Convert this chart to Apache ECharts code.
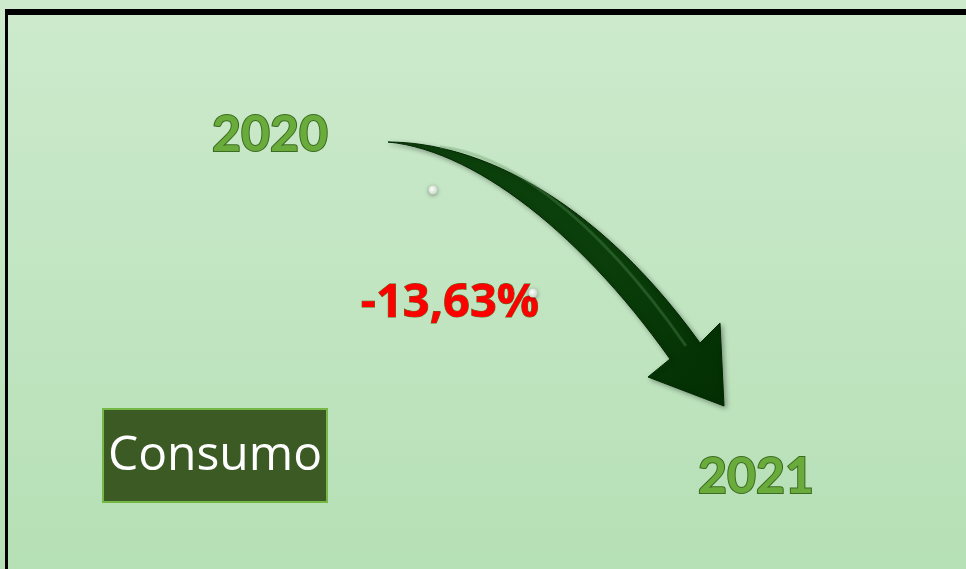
<!DOCTYPE html>
<html>
<head>
<meta charset="utf-8">
<script src="https://cdn.jsdelivr.net/npm/echarts@6/dist/echarts.min.js"></script>
<style>
  html, body { margin: 0; padding: 0; }
  #container { width: 966px; height: 569px; }
</style>
</head>
<body>
<div id="container"></div>
<script>
// datos: consumo 2020 -> 2021 (indice)
var years = ['2020', '2021'];
var values = [100, 86.37];
var category = 'Consumo';

// puntos de una curva bezier cubica (para dibujar la flecha)
function cubic(p0, p1, p2, p3, n) {
	var pts = [];
	for (var i = 0; i <= n; i++) {
		var t = i / n, u = 1 - t;
		pts.push([
			u*u*u*p0[0] + 3*u*u*t*p1[0] + 3*u*t*t*p2[0] + t*t*t*p3[0],
			u*u*u*p0[1] + 3*u*u*t*p1[1] + 3*u*t*t*p2[1] + t*t*t*p3[1]
		]);
	}
	return pts;
}

window.onload = function () {
	var chart = echarts.init(document.getElementById('container'));
	var change = ((values[1] - values[0]) / values[0] * 100).toFixed(2).replace('.', ',') + '%';

	var outer = cubic([388, 142], [470, 142], [590, 190], [700, 343], 30);
	var inner = cubic([670, 359], [582, 235], [475, 150], [388, 142], 30);
	var arrowPts = outer.concat([[720, 323], [724, 406], [648, 377]]).concat(inner);

	var yearStyle = {
		fill: '#6aac3c',
		stroke: '#3d6b22',
		lineWidth: 2,
		font: 'bold 50px Lato',
		textAlign: 'center',
		textVerticalAlign: 'middle',
		shadowColor: 'rgba(0,0,0,0.45)',
		shadowBlur: 4,
		shadowOffsetX: 3,
		shadowOffsetY: 3
	};

	chart.setOption({
		backgroundColor: new echarts.graphic.LinearGradient(0, 0, 0, 1, [
			{ offset: 0, color: '#cdeacd' },
			{ offset: 1, color: '#b6e0b6' }
		]),
		grid: { left: 433, width: 100, top: 190, height: 103 },
		xAxis: { type: 'category', data: years, boundaryGap: false, show: false },
		yAxis: { type: 'value', min: 86.37, max: 100, show: false },
		series: [{
			type: 'line',
			data: values,
			symbol: 'circle',
			symbolSize: 9,
			z: 20,
			lineStyle: { opacity: 0 },
			itemStyle: {
				color: new echarts.graphic.RadialGradient(0.4, 0.4, 0.6, [
					{ offset: 0, color: '#ffffff' },
					{ offset: 1, color: '#c8d8c8' }
				]),
				shadowColor: 'rgba(0,0,0,0.4)',
				shadowBlur: 4,
				shadowOffsetY: 1
			},
			silent: true,
			animation: false
		}],
		graphic: [
			// marco
			{ type: 'line', shape: { x1: 5, y1: 12, x2: 966, y2: 12 }, style: { stroke: '#000', lineWidth: 6 } },
			{ type: 'line', shape: { x1: 6.5, y1: 9, x2: 6.5, y2: 569 }, style: { stroke: '#000', lineWidth: 3 } },
			// flecha
			{
				type: 'polygon',
				z: 5,
				shape: { points: arrowPts },
				style: {
					fill: new echarts.graphic.LinearGradient(0, 0, 1, 1, [
						{ offset: 0, color: '#0c420c' },
						{ offset: 0.6, color: '#0a3d0a' },
						{ offset: 1, color: '#032e03' }
					]),
					stroke: '#022802',
					lineWidth: 1,
					shadowColor: 'rgba(0,0,0,0.35)',
					shadowBlur: 5,
					shadowOffsetX: 2,
					shadowOffsetY: 2
				}
			},
			{
				type: 'bezierCurve',
				z: 6,
				shape: { x1: 440, y1: 147, cpx1: 500, cpy1: 152, cpx2: 590, cpy2: 208, x2: 686, y2: 346 },
				style: { fill: null, stroke: 'rgba(100,160,100,0.3)', lineWidth: 3 }
			},
			// textos
			{ type: 'text', z: 10, x: 270, y: 135, style: Object.assign({}, yearStyle, { text: years[0] }) },
			{ type: 'text', z: 10, x: 756, y: 477, style: Object.assign({}, yearStyle, { text: years[1] }) },
			{
				type: 'text', z: 10, x: 450, y: 304,
				style: {
					text: change,
					fill: '#ff0000',
					stroke: '#5a6a1a',
					lineWidth: 1,
					font: 'bold 47px "Open Sans"',
					textAlign: 'center',
					textVerticalAlign: 'middle',
					shadowColor: 'rgba(0,0,0,0.4)',
					shadowBlur: 4,
					shadowOffsetX: 2,
					shadowOffsetY: 3
				}
			},
			{
				type: 'rect', z: 8,
				shape: { x: 103, y: 409, width: 224, height: 93 },
				style: { fill: '#3c5a24', stroke: '#76b846', lineWidth: 2 }
			},
			{
				type: 'text', z: 10, x: 215, y: 456,
				style: {
					text: category,
					fill: '#ffffff',
					font: '48px "Open Sans"',
					textAlign: 'center',
					textVerticalAlign: 'middle'
				}
			}
		]
	});
};
</script>
</body>
</html>
